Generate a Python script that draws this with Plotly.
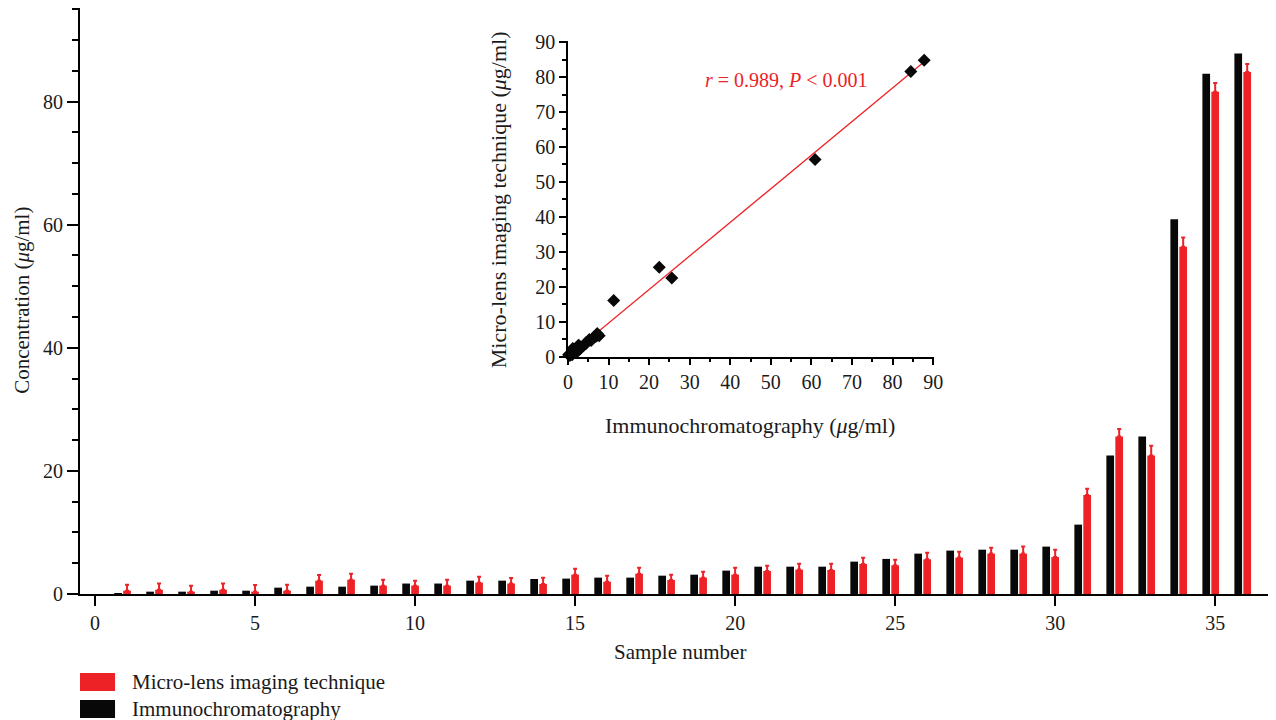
import numpy as np
import plotly.graph_objects as go

# ---------------- data ----------------
samples = list(range(1, 37))
immuno = [0.16, 0.38, 0.38, 0.54, 0.54, 1.03, 1.19, 1.19, 1.36, 1.7, 1.7, 2.17,
          2.17, 2.44, 2.5, 2.66, 2.66, 2.98, 3.14, 3.8, 4.44, 4.44, 4.44, 5.26,
          5.7, 6.56, 7.05, 7.2, 7.2, 7.7, 11.27, 22.5, 25.6, 60.9, 84.5, 87.8]
microlens = [0.54, 0.7, 0.38, 0.7, 0.38, 0.54, 2.17, 2.33, 1.36, 1.36, 1.36, 1.84,
             1.7, 1.63, 3.14, 2.0, 3.3, 2.28, 2.66, 3.14, 3.74, 3.96, 3.9, 4.88,
             4.66, 5.64, 5.91, 6.56, 6.56, 6.0, 16.1, 25.6, 22.5, 56.4, 81.6, 84.8]
microlens_err = [0.96, 1.0, 0.97, 1.0, 1.1, 0.96, 0.93, 0.97, 0.94, 0.81, 0.94, 0.96,
                 0.9, 1.03, 0.98, 0.98, 0.98, 0.86, 0.97, 1.14, 0.86, 0.97, 1.03, 1.02,
                 0.92, 1.08, 0.97, 0.97, 1.14, 1.2, 1.0, 1.2, 1.6, 1.5, 1.4, 1.3]
main_xticks = [0, 5, 10, 15, 20, 25, 30, 35]
main_yticks = [0, 20, 40, 60, 80]
inset_ticks = [0, 10, 20, 30, 40, 50, 60, 70, 80, 90]
corr_text = "<i>r</i> = 0.989, <i>P</i> < 0.001"

RED = "#ED2227"
BLACK = "#080808"
TXT = "#1a1a1a"
FONT = "Liberation Serif"

# regression line from data
slope, intercept = np.polyfit(immuno, microlens, 1)
fit_x = [0, max(immuno)]
fit_y = [intercept + slope * v for v in fit_x]

fig = go.Figure()

fig.add_trace(go.Bar(
    x=samples, y=immuno, name="Immunochromatography",
    marker=dict(color=BLACK, line=dict(width=0)),
    width=0.24, offset=-0.40, showlegend=False,
))
fig.add_trace(go.Bar(
    x=samples, y=microlens, name="Micro-lens imaging technique",
    marker=dict(color=RED, line=dict(width=0)),
    width=0.24, offset=-0.12, showlegend=False,
    error_y=dict(type="data", symmetric=False, array=microlens_err,
                 arrayminus=[0] * len(microlens_err),
                 color=RED, thickness=2, width=2),
))

# inset scatter
fig.add_trace(go.Scatter(
    x=fit_x, y=fit_y, mode="lines", line=dict(color=RED, width=1.3),
    xaxis="x2", yaxis="y2", showlegend=False, cliponaxis=False,
))
fig.add_trace(go.Scatter(
    x=immuno, y=microlens, mode="markers",
    marker=dict(symbol="diamond", size=10, color=BLACK),
    xaxis="x2", yaxis="y2", showlegend=False, cliponaxis=False,
))

tickfont = dict(family=FONT, size=20, color=TXT)

# page body has an 8px default margin, so the figure is sized to end at 1276x720
fig.update_layout(
    width=1268, height=712,
    margin=dict(l=72, r=0, t=0, b=126, autoexpand=False),
    paper_bgcolor="white", plot_bgcolor="white",
    barmode="overlay",
    font=dict(family=FONT, size=20, color=TXT),
    xaxis=dict(
        range=[-0.47, 36.9], tickvals=main_xticks, ticks="outside", ticklen=10,
        tickwidth=2, tickcolor="black", showline=True, linecolor="black",
        linewidth=2, showgrid=False, zeroline=False, tickfont=tickfont,
        automargin=False,
    ),
    yaxis=dict(
        range=[0, 95.2], tickvals=main_yticks, ticks="outside", ticklen=11,
        tickwidth=2, tickcolor="black", showline=True, linecolor="black",
        linewidth=2, showgrid=False, zeroline=False, tickfont=tickfont,
        automargin=False,
        minor=dict(dtick=5, tick0=0, ticks="outside", ticklen=6, tickwidth=2,
                   tickcolor="black"),
    ),
    xaxis2=dict(
        domain=[0.408, 0.714], anchor="y2", range=[0, 90.2],
        tickvals=inset_ticks, ticks="outside", ticklen=7, tickwidth=1.5,
        tickcolor="black", showline=True, linecolor="black", linewidth=1.5,
        showgrid=False, zeroline=False, tickfont=tickfont, automargin=False,
        minor=dict(dtick=5, tick0=0, ticks="outside", ticklen=4, tickwidth=1.5,
                   tickcolor="black"),
    ),
    yaxis2=dict(
        domain=[0.405, 0.943], anchor="x2", range=[0, 90.2],
        tickvals=inset_ticks, ticks="outside", ticklen=7, tickwidth=1.5,
        tickcolor="black", showline=True, linecolor="black", linewidth=1.5,
        showgrid=False, zeroline=False, tickfont=tickfont, automargin=False,
        minor=dict(dtick=5, tick0=0, ticks="outside", ticklen=4, tickwidth=1.5,
                   tickcolor="black"),
    ),
)

annos = [
    dict(text="Sample number", x=0.5017, y=-0.099, xref="paper", yref="paper",
         xanchor="center", yanchor="middle", showarrow=False,
         font=dict(family=FONT, size=21, color=TXT)),
    dict(text="Concentration (<i>μ</i>g/ml)", x=-0.0485, y=0.502, xref="paper",
         yref="paper", textangle=-90, xanchor="center", yanchor="middle",
         showarrow=False, font=dict(family=FONT, size=21, color=TXT)),
    dict(text="Immunochromatography (<i>μ</i>g/ml)", x=0.560, y=0.288,
         xref="paper", yref="paper", xanchor="center", yanchor="middle",
         showarrow=False, font=dict(family=FONT, size=22, color=TXT)),
    dict(text="Micro-lens imaging technique (<i>μ</i>g/ml)", x=0.3495, y=0.672,
         xref="paper", yref="paper", textangle=-90, xanchor="center",
         yanchor="middle", showarrow=False,
         font=dict(family=FONT, size=22, color=TXT)),
    dict(text=corr_text, x=33.3, y=79.2, xref="x2", yref="y2", xanchor="left",
         yanchor="middle", showarrow=False,
         font=dict(family=FONT, size=20, color=RED)),
    dict(text="Micro-lens imaging technique", x=0.0418, y=-0.150, xref="paper",
         yref="paper", xanchor="left", yanchor="middle", showarrow=False,
         font=dict(family=FONT, size=21, color=TXT)),
    dict(text="Immunochromatography", x=0.0418, y=-0.196, xref="paper",
         yref="paper", xanchor="left", yanchor="middle", showarrow=False,
         font=dict(family=FONT, size=21, color=TXT)),
]
fig.update_layout(annotations=annos)

shapes = [
    # x-axis line extension to the left of the y axis
    dict(type="line", xref="paper", yref="paper", x0=-0.01, x1=0, y0=0, y1=0,
         line=dict(color="black", width=2)),
    # legend swatches
    dict(type="rect", xref="paper", yref="paper", x0=0.0, x1=0.0293,
         y0=-0.1655, y1=-0.1348, fillcolor=RED, line=dict(width=0)),
    dict(type="rect", xref="paper", yref="paper", x0=0.0, x1=0.0293,
         y0=-0.2116, y1=-0.1809, fillcolor=BLACK, line=dict(width=0)),
]
fig.update_layout(shapes=shapes)

fig.write_html("out.html")
